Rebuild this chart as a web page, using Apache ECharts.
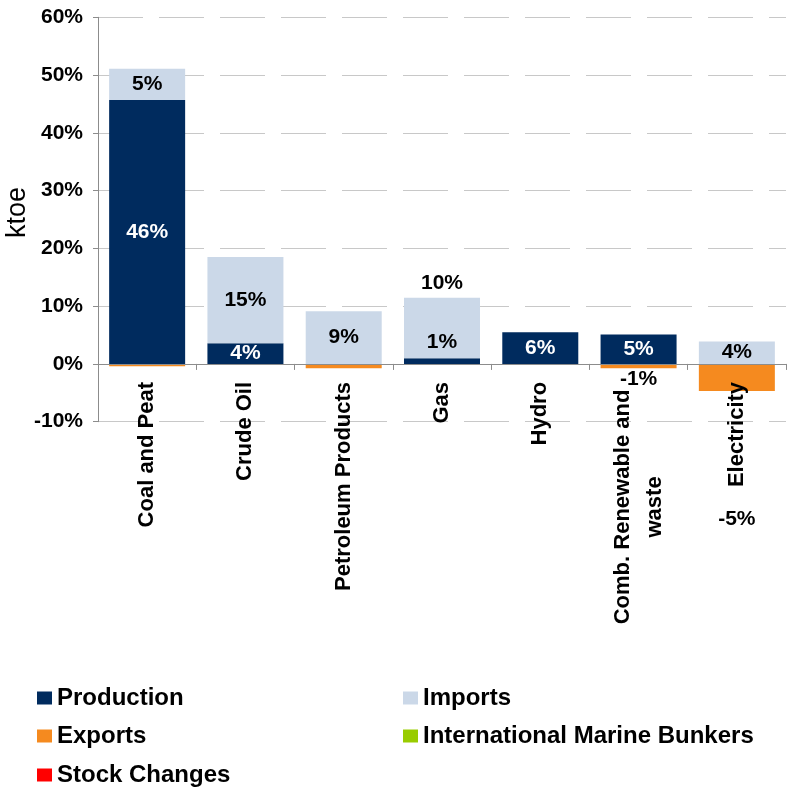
<!DOCTYPE html>
<html>
<head>
<meta charset="utf-8">
<script src="https://cdn.jsdelivr.net/npm/echarts@6/dist/echarts.min.js"></script>
<style>
  html, body { margin: 0; padding: 0; background: #ffffff; }
  #chart { width: 789px; height: 789px; }
</style>
</head>
<body>
<div id="chart"></div>
<script>
// Shares of total primary energy supply by product (per cent)
const categories = ['Coal and Peat', 'Crude Oil', 'Petroleum Products', 'Gas', 'Hydro', 'Comb. Renewable and\nwaste', 'Electricity'];
const production   = [45.7, 3.6, 0, 1.0, 5.5, 5.1, 0];
const imports      = [5.4, 14.9, 9.1, 10.45, 0, 0, 3.9];
const exports      = [-0.4, 0, -0.75, 0, 0, -0.75, -4.7];
const bunkers      = [0, 0, 0, 0, 0, 0, 0];
const stockChanges = [0, 0, 0, 0, 0, 0, 0];
const yMin = -10, yMax = 60, yStep = 10;

const FONT = "'Liberation Sans', Arial, Helvetica, sans-serif";
const COLORS = {
  production: '#002B5E',
  imports: '#CBD8E8',
  exports: '#F58A1F',
  bunkers: '#99CC00',
  stock: '#FF0000'
};

const GRID_TOP = 17.3, GRID_BOTTOM = 367.3, CHART_H = 789;
const plotH = CHART_H - GRID_TOP - GRID_BOTTOM;
// distance from the plot bottom (yMin) up to the zero line
const zeroLift = plotH * (0 - yMin) / (yMax - yMin);

const pct = p => Math.round(p.value) + '%';
const baseLabel = { fontFamily: FONT, fontSize: 21, fontWeight: 'bold', formatter: pct };

// Per-bar label placement; null hides the label
function buildData(values, placeFor) {
  return values.map((v, i) => {
    const place = v === 0 ? null : placeFor(i, v);
    return { value: v, label: place ? Object.assign({ show: true }, place) : { show: false } };
  });
}

const productionData = buildData(production, i =>
  categories[i] === 'Gas'
    ? { position: 'top', distance: 5, color: '#000' }
    : { position: 'inside', color: '#fff' });

const importsData = buildData(imports, i =>
  categories[i] === 'Gas'
    ? { position: 'top', distance: 4, color: '#000' }
    : { position: 'inside', color: '#000' });

const exportsData = buildData(exports, i => {
  if (categories[i] === 'Electricity') return { position: 'bottom', distance: 118, color: '#000' };
  if (categories[i].indexOf('Comb.') === 0) return { position: 'bottom', distance: 0, color: '#000' };
  return null;
});

function barSeries(name, data, color) {
  return {
    name: name,
    type: 'bar',
    stack: 'supply',
    barWidth: 76,
    data: data,
    itemStyle: { color: color },
    label: Object.assign({ show: false }, baseLabel),
    emphasis: { disabled: true }
  };
}

// One legend entry per slot: two columns, three rows
const legendSlots = [
  { name: 'Production', left: 37, top: 686 },
  { name: 'Imports', left: 403, top: 686 },
  { name: 'Exports', left: 37, top: 724 },
  { name: 'International Marine Bunkers', left: 403, top: 724 },
  { name: 'Stock Changes', left: 37, top: 763 }
];
const legends = legendSlots.map(s => ({
  left: s.left,
  top: s.top,
  padding: 0,
  itemWidth: 15,
  itemHeight: 13,
  icon: 'rect',
  selectedMode: false,
  data: [s.name],
  textStyle: { fontFamily: FONT, fontSize: 24, fontWeight: 'bold', color: '#000' }
}));

const chart = echarts.init(document.getElementById('chart'), null, { renderer: 'canvas' });
chart.setOption({
  animation: false,
  backgroundColor: '#ffffff',
  textStyle: { fontFamily: FONT },
  grid: { left: 98, right: 3, top: GRID_TOP, bottom: GRID_BOTTOM, containLabel: false, outerBoundsMode: 'none' },
  xAxis: {
    type: 'category',
    data: categories,
    position: 'bottom',
    offset: -zeroLift,
    z: 5,
    axisLine: { onZero: false, lineStyle: { color: '#8c8c8c', width: 1 } },
    axisTick: { show: true, alignWithLabel: false, interval: 0, length: 6, lineStyle: { color: '#8c8c8c' } },
    axisLabel: {
      interval: 0,
      rotate: 90,
      margin: 18,
      color: '#000',
      fontFamily: FONT,
      fontSize: 22,
      fontWeight: 'bold',
      formatter: v => v.indexOf('\n') >= 0
        ? v.split('\n').map(s => '{c|' + s + '}').join('\n')
        : v,
      rich: {
        c: { width: 250, align: 'center', fontFamily: FONT, fontSize: 22, fontWeight: 'bold', lineHeight: 32, color: '#000' }
      }
    },
    splitLine: { show: false }
  },
  yAxis: {
    type: 'value',
    min: yMin,
    max: yMax,
    interval: yStep,
    name: 'ktoe',
    nameLocation: 'middle',
    nameRotate: 90,
    nameGap: 67,
    nameMoveOverlap: false,
    nameTextStyle: { fontFamily: FONT, fontSize: 27, fontWeight: 'normal', color: '#000', padding: [0, 0, 0, 14] },
    axisLine: { show: true, lineStyle: { color: '#8c8c8c', width: 1 } },
    axisTick: { show: true, length: 5, lineStyle: { color: '#8c8c8c' } },
    axisLabel: {
      formatter: '{value}%',
      margin: 15,
      color: '#000',
      fontFamily: FONT,
      fontSize: 21,
      fontWeight: 'bold'
    },
    splitLine: { show: true, lineStyle: { color: '#c8c8c8', width: 1, type: [45, 16] } }
  },
  legend: legends,
  series: [
    barSeries('Production', productionData, COLORS.production),
    barSeries('Imports', importsData, COLORS.imports),
    barSeries('Exports', exportsData, COLORS.exports),
    barSeries('International Marine Bunkers', bunkers, COLORS.bunkers),
    barSeries('Stock Changes', stockChanges, COLORS.stock)
  ]
});
</script>
</body>
</html>
